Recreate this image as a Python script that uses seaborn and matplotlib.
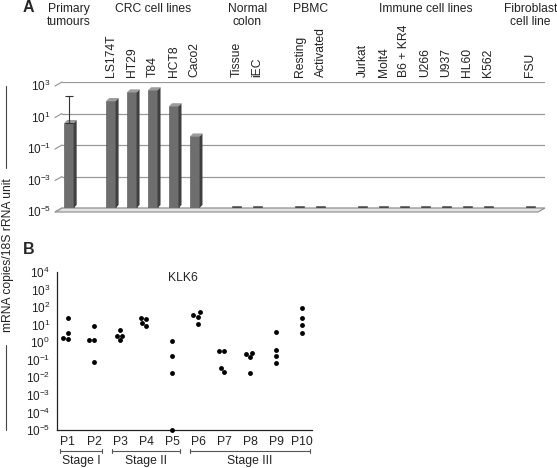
import matplotlib
matplotlib.use('Agg')  # no display in the sandbox
import matplotlib.pyplot as plt
import matplotlib.transforms as mtransforms
from matplotlib.lines import Line2D
from matplotlib.patches import Polygon, Rectangle
from matplotlib.ticker import FixedLocator, LogFormatterSciNotation, NullLocator
import seaborn as sns
import pandas as pd
import numpy as np

# ---- panel A: KLK6 expression in tumours and cell lines ----
group_names = ["Primary\ntumours", "CRC cell lines", "Normal\ncolon", "PBMC",
               "Immune cell lines", "Fibroblast\ncell line"]
group_samples = [[""],
                 ["LS174T", "HT29", "T84", "HCT8", "Caco2"],
                 ["Tissue", "iEC"],
                 ["Resting", "Activated"],
                 ["Jurkat", "Molt4", "B6 + KR4", "U266", "U937", "HL60", "K562"],
                 ["FSU"]]
group_values = [[2.5],
                [62, 220, 300, 29, 0.35],
                [1.4e-5, 1.4e-5],
                [1.4e-5, 1.4e-5],
                [1.4e-5, 1.4e-5, 1.4e-5, 1.4e-5, 1.4e-5, 1.4e-5, 1.4e-5],
                [1.4e-5]]
tumour_err_top = 130

# ---- panel B: KLK6 in individual patients ----
patients = ["P1", "P2", "P3", "P4", "P5", "P6", "P7", "P8", "P9", "P10"]
patient_values = [[23, 3.4, 1.6, 1.8],
                  [1.35, 1.3, 8.3, 0.07],
                  [2.4, 4.9, 1.3, 2.2],
                  [23, 20, 7.9, 12],
                  [1.2, 0.17, 0.017, 1e-5],
                  [35, 28, 11, 50],
                  [0.3, 0.3, 0.02, 0.034],
                  [0.2, 0.14, 0.018, 0.25],
                  [3.9, 0.36, 0.17, 0.063],
                  [85, 23, 9.5, 3.3]]
stage_names = ["Stage I", "Stage II", "Stage III"]
stage_members = [["P1", "P2"], ["P3", "P4", "P5"], ["P6", "P7", "P8", "P9", "P10"]]

sns.set_style("white")
plt.rcParams['font.family'] = ['Liberation Sans', 'DejaVu Sans']
plt.rcParams['font.size'] = 8.7

W, H = 557, 468
fig = plt.figure(figsize=(W / 100, H / 100), dpi=100)
pix = mtransforms.IdentityTransform()  # display pixels, for the fake 3D bits
TXT = "#222222"

# slot positions: one empty slot between groups
rows = []
slot = 0
for gi, (samples, vals) in enumerate(zip(group_samples, group_values)):
    for s, v in zip(samples, vals):
        rows.append({"pos": slot, "value": v, "label": s, "group": gi})
        slot += 1
    slot += 1
df_a = pd.DataFrame(rows)

# axes = back wall of the excel-like 3D chart
axA = fig.add_axes([62 / W, 1 - 208 / H, (545 - 62) / W, (208 - 82) / H])
axA.set_yscale('log')
sns.barplot(data=df_a, x="pos", y="value", native_scale=True, color="#6e6e6e",
            edgecolor="#505050", linewidth=0.4, width=0.45, errorbar=None,
            saturation=1, ax=axA, zorder=3)
axA.set_ylim(1e-5, 1e3)
axA.set_xlim(-0.33, 22.7)
grid_vals = [1e3, 1e1, 1e-1, 1e-3, 1e-5]
axA.yaxis.set_major_locator(FixedLocator(grid_vals))
axA.yaxis.set_major_formatter(LogFormatterSciNotation())
axA.yaxis.set_minor_locator(NullLocator())
axA.grid(axis='y', color="#9a9a9a", linewidth=0.9, zorder=0)
axA.set_xticks([])
axA.set_xlabel("")
axA.set_ylabel("")
axA.tick_params(axis='y', length=0, pad=8, labelsize=8.5, colors=TXT)
shift = mtransforms.ScaledTranslation(0, -3 / 100, fig.dpi_scale_trans)
for lab in axA.get_yticklabels():
    lab.set_transform(lab.get_transform() + shift)
for sp in axA.spines.values():
    sp.set_visible(False)

dx, dy = 7, 4  # depth of the wall / floor in pixels
X0, Yb = axA.transAxes.transform((0, 0))
X1, _ = axA.transAxes.transform((1, 0))
# floor
floor = Polygon([(X0, Yb), (X1, Yb), (X1 - dx, Yb - dy), (X0 - dx, Yb - dy)],
                closed=True, transform=pix, facecolor="#e4e4e4", edgecolor="#8a8a8a",
                lw=0.8, zorder=1)
axA.add_artist(floor)
floor.set_clip_on(False)
# little slanted lines where each gridline meets the side wall
for v in grid_vals:
    _, Y = axA.transData.transform((0, v))
    fig.add_artist(Line2D([X0 - dx, X0], [Y - dy, Y], transform=pix,
                          color="#9a9a9a", lw=0.9))

# side and top faces of the bars; the flat "not detected" bars stay plain dark dashes
for p in axA.patches:
    if not isinstance(p, Rectangle) or p.get_height() <= 0:
        continue
    if p.get_height() < 1e-4:
        p.set_facecolor("#4a4a4a")
        p.set_edgecolor("#4a4a4a")
        continue
    (bx0, by0), (bx1, by1) = axA.transData.transform(
        [(p.get_x(), 1e-5), (p.get_x() + p.get_width(), p.get_height())])
    d = 3
    side = Polygon([(bx1, by0), (bx1 + d, by0 + d), (bx1 + d, by1 + d), (bx1, by1)],
                   transform=pix, facecolor="#3f3f3f", edgecolor="none", zorder=3)
    top = Polygon([(bx0, by1), (bx0 + d, by1 + d), (bx1 + d, by1 + d), (bx1, by1)],
                  transform=pix, facecolor="#9c9c9c", edgecolor="none", zorder=3)
    for poly in (side, top):
        poly.set_clip_on(False)
        axA.add_artist(poly)

first = df_a.iloc[0]
axA.errorbar(first["pos"], first["value"], yerr=[[0], [tumour_err_top - first["value"]]],
             fmt='none', ecolor="#333333", elinewidth=0.8, capsize=3, capthick=0.8, zorder=4)

# rotated sample names above the plot
for _, r in df_a.iterrows():
    if r["label"]:
        axA.annotate(r["label"], xy=(r["pos"], 1.0), xycoords=('data', 'axes fraction'),
                     xytext=(0, 3.5), textcoords='offset points', rotation=90,
                     ha='center', va='bottom', fontsize=8.7, color=TXT)

# group headers
head_tr = mtransforms.blended_transform_factory(axA.transData, fig.transFigure)
for gi, name in enumerate(group_names):
    cx = df_a.loc[df_a["group"] == gi, "pos"].mean()
    axA.text(cx, 1 - 3 / H, name, transform=head_tr, ha='center', va='top',
             fontsize=8.7, linespacing=1.15, color=TXT)

fig.text(23 / W, 1 - 8 / H, "A", fontsize=11.5, fontweight='bold', va='center')

# ---- panel B ----
df_b = pd.DataFrame([{"patient": p, "value": v}
                     for p, vals in zip(patients, patient_values) for v in vals])

axB = fig.add_axes([57 / W, 1 - 430 / H, (312 - 57) / W, (430 - 272) / H])
axB.set_yscale('log')
sns.swarmplot(data=df_b, x="patient", y="value", order=patients, color="black",
              size=3.5, ax=axB)
for c in axB.collections:
    c.set_clip_on(False)
axB.set_ylim(1e-5, 1e4)
axB.set_xlim(-0.42, 9.38)
axB.yaxis.set_major_locator(FixedLocator(10.0 ** np.arange(-5, 5)))
axB.yaxis.set_major_formatter(LogFormatterSciNotation())
axB.yaxis.set_minor_locator(NullLocator())
axB.set_xlabel("")
axB.set_ylabel("")
axB.tick_params(axis='y', length=3, width=0.8, pad=2, labelsize=8.5, direction='out',
                colors=TXT)
axB.tick_params(axis='x', length=0, pad=4, labelsize=8.7, colors=TXT)
sns.despine(ax=axB)
for side in ("left", "bottom"):
    axB.spines[side].set_linewidth(0.9)
    axB.spines[side].set_color(TXT)

axB.text(0.494, 0.965, "KLK6", transform=axB.transAxes, ha='center', va='center',
         fontsize=8.7)

# stage brackets
br_tr = mtransforms.blended_transform_factory(axB.transData, axB.transAxes)
yb = -21 / 158
cap = 0.014
for name, members in zip(stage_names, stage_members):
    x0 = patients.index(members[0]) - 0.3
    x1 = patients.index(members[-1]) + 0.3
    axB.plot([x0, x1], [yb, yb], transform=br_tr, clip_on=False, color="#555555", lw=0.8)
    for x in (x0, x1):
        axB.plot([x, x], [yb - cap, yb + cap], transform=br_tr, clip_on=False,
                 color="#555555", lw=0.8)
    axB.text((x0 + x1) / 2, yb - 0.065, name, transform=br_tr, ha='center', va='center',
             fontsize=8.7, color=TXT)

fig.text(23 / W, 1 - 250 / H, "B", fontsize=11.5, fontweight='bold', va='center')

# shared y label with its bracket lines
fig.text(8 / W, 1 - 255 / H, "mRNA copies/18S rRNA unit", rotation=90,
         ha='center', va='center', fontsize=8.7, color=TXT)
for y0, y1 in ((86, 168), (345, 430)):
    fig.add_artist(Line2D([6 / W, 6 / W], [1 - y0 / H, 1 - y1 / H], color="#444444", lw=0.8))

fig.savefig("out.png", dpi=100)
